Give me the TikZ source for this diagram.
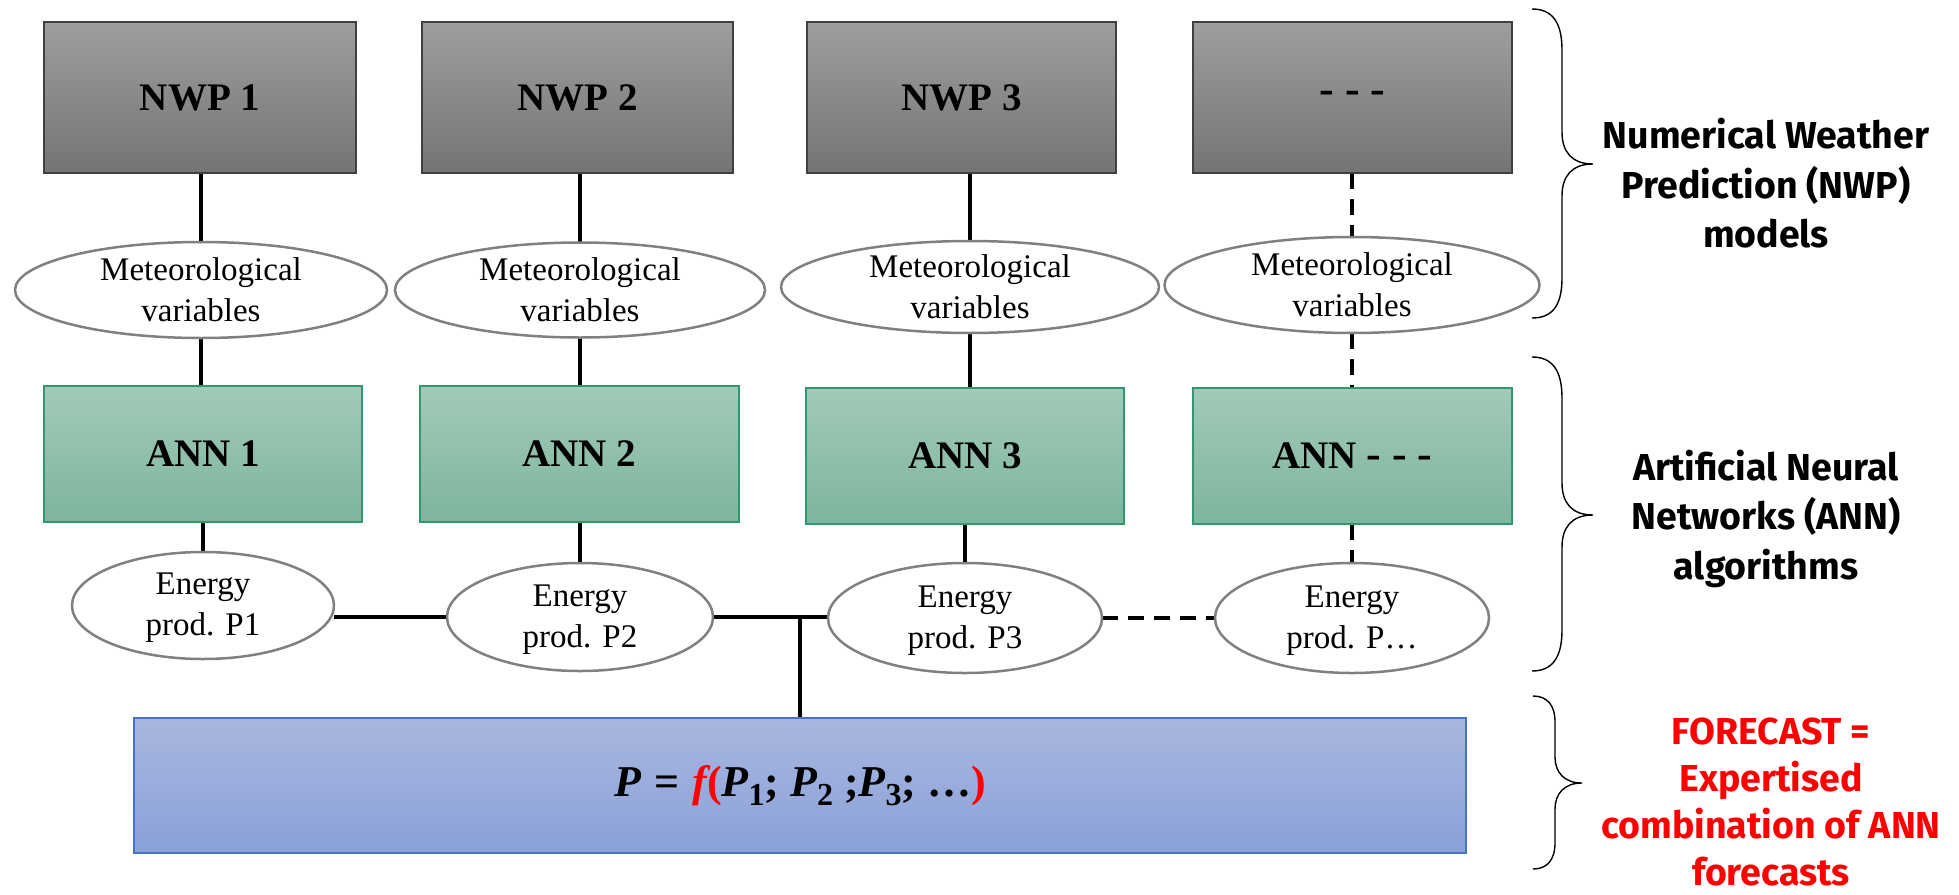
\documentclass[tikz,border=0pt]{standalone}
\usepackage{fontspec}
\setmainfont{Liberation Serif}
\newfontfamily\sidefont{Fira Sans}
\usetikzlibrary{shapes.geometric,backgrounds}
\definecolor{nwptop}{RGB}{158,158,158}
\definecolor{nwpbot}{RGB}{116,116,116}
\definecolor{anntop}{RGB}{162,202,185}
\definecolor{annbot}{RGB}{125,181,157}
\definecolor{annborder}{RGB}{50,150,110}
\definecolor{ptop}{RGB}{169,183,223}
\definecolor{pbot}{RGB}{137,161,216}
\definecolor{pborder}{RGB}{68,114,196}
\definecolor{ellborder}{RGB}{128,128,128}
\definecolor{fred}{RGB}{255,0,0}
\newcommand\bivar[1]{{\bfseries\itshape #1}}
\newcommand\dashtxt{{\fontsize{44}{47}\selectfont - - -}}
\newcommand\subtxt[1]{\raisebox{-0.22em}{\fontsize{32}{34}\selectfont #1}}
\newcommand\myformula{{\fontsize{44}{50}\selectfont\bfseries
  \bivar{P}\hspace{0.3em}=\hspace{0.3em}\textcolor{fred}{\bivar{f}(}\bivar{P}\subtxt{1}; \bivar{P}\subtxt{2} ;\bivar{P}\subtxt{3}; \ldots\textcolor{fred}{)}}}
\begin{document}
\begin{tikzpicture}[x=1pt,y=-1pt,
  nwpbox/.style={draw=black!75, line width=1.5pt, top color=nwptop, bottom color=nwpbot,
    minimum height=151, outer sep=0pt, inner sep=0pt, font=\fontsize{39}{47}\selectfont\bfseries},
  annbox/.style={draw=annborder, line width=1.5pt, top color=anntop, bottom color=annbot,
    minimum height=136, outer sep=0pt, inner sep=0pt, font=\fontsize{39}{47}\selectfont\bfseries},
  combbox/.style={draw=pborder, line width=1.5pt, top color=ptop, bottom color=pbot,
    minimum width=1332, minimum height=135, outer sep=0pt, inner sep=0pt},
  ell/.style={ellipse, draw=ellborder, line width=2.5pt, fill=white, outer sep=0pt, inner sep=0pt},
  elltext/.style={align=center, inner sep=0pt, font=\fontsize{33}{41}\selectfont},
  conn/.style={line width=4pt, black},
  dconn/.style={line width=4pt, black, dash pattern=on 16pt off 10pt},
  bracepath/.style={line width=1.4pt, black},
  sidetext/.style={align=center, inner sep=0pt, font=\sidefont\bfseries\fontsize{37.5}{49.5}\selectfont},
]
\useasboundingbox (0,0) rectangle (1959,894);

% NWP boxes
\node[nwpbox, minimum width=312] (nwp1) at (200,97.5) {NWP 1};
\node[nwpbox, minimum width=311] (nwp2) at (577.5,97.5) {NWP 2};
\node[nwpbox, minimum width=309] (nwp3) at (961.5,97.5) {NWP 3};
\node[nwpbox, minimum width=319] (nwp4) at (1352.5,97.5) {\dashtxt};

% Meteorological variables ellipses
\node[ell, minimum width=372, minimum height=96] (met1) at (201,290) {};
\node[ell, minimum width=370, minimum height=95] (met2) at (580,290) {};
\node[ell, minimum width=378, minimum height=92] (met3) at (970,287) {};
\node[ell, minimum width=375, minimum height=96] (met4) at (1352,285) {};
\node[elltext] (met1t) at (201,290) {Meteorological\\variables};
\node[elltext] (met2t) at (580,290) {Meteorological\\variables};
\node[elltext] (met3t) at (970,287) {Meteorological\\variables};
\node[elltext] (met4t) at (1352,285) {Meteorological\\variables};

% ANN boxes
\node[annbox, minimum width=318] (ann1) at (203,454) {ANN 1};
\node[annbox, minimum width=319] (ann2) at (579.5,454) {ANN 2};
\node[annbox, minimum width=318] (ann3) at (965,456) {ANN 3};
\node[annbox, minimum width=319] (ann4) at (1352.5,456) {ANN \dashtxt};

% Energy production ellipses
\node[ell, minimum width=262, minimum height=107] (ep1) at (203,605.5) {};
\node[ell, minimum width=266, minimum height=108] (ep2) at (580,617) {};
\node[ell, minimum width=274, minimum height=110] (ep3) at (965,618) {};
\node[ell, minimum width=274, minimum height=110] (ep4) at (1352,618) {};
\node[elltext] (ep1t) at (203,608) {Energy\\prod. P1};
\node[elltext] (ep2t) at (580,620) {Energy\\prod. P2};
\node[elltext] (ep3t) at (965,621) {Energy\\prod. P3};
\node[elltext] (ep4t) at (1352,621) {Energy\\prod. P\ldots};

% Combination box
\node[combbox] (comb) at (800,785.5) {\myformula};

\coordinate (j) at (comb.north |- ep2.east);

\begin{pgfonlayer}{background}
  \draw[conn] (met1.north) -- (met1.north |- nwp1.south);
  \draw[conn] (met2.north) -- (met2.north |- nwp2.south);
  \draw[conn] (met3.north) -- (met3.north |- nwp3.south);
  \draw[dconn] (met4.north |- nwp4.south) -- (met4.north);
  \draw[conn] (met1.south) -- (met1.south |- ann1.north);
  \draw[conn] (met2.south) -- (met2.south |- ann2.north);
  \draw[conn] (met3.south) -- (met3.south |- ann3.north);
  \draw[dconn] (met4.south) -- (met4.south |- ann4.north);
  \draw[conn] (ep1.north) -- (ep1.north |- ann1.south);
  \draw[conn] (ep2.north) -- (ep2.north |- ann2.south);
  \draw[conn] (ep3.north) -- (ep3.north |- ann3.south);
  \draw[dconn] (ep4.north |- ann4.south) -- (ep4.north);
  \draw[conn] (ep2.west) -- (ep2.west -| ep1.east);
  \draw[conn] (ep2.east) -- (j) -- (comb.north);
  \draw[conn] (j) -- (j -| ep3.west);
  \draw[dconn] (ep3.east) -- (ep4.west);
\end{pgfonlayer}

% Braces
\draw[bracepath] (1532,9) .. controls (1552,9) and (1562,22) .. (1562,50) -- (1562,132)
  .. controls (1562,152) and (1572,164) .. (1593,164)
  .. controls (1572,164) and (1562,176) .. (1562,196) -- (1562,278)
  .. controls (1562,306) and (1552,318) .. (1532,318);
\draw[bracepath] (1532,357) .. controls (1552,357) and (1562,370) .. (1562,398) -- (1562,483)
  .. controls (1562,503) and (1572,515) .. (1593,515)
  .. controls (1572,515) and (1562,527) .. (1562,547) -- (1562,630)
  .. controls (1562,658) and (1552,671) .. (1532,671);
\draw[bracepath] (1533,696) .. controls (1547,696) and (1555,705) .. (1555,722) -- (1555,757)
  .. controls (1555,772) and (1564,783) .. (1582,783)
  .. controls (1564,783) and (1555,794) .. (1555,809) -- (1555,843)
  .. controls (1555,860) and (1547,869) .. (1533,869);

% Side texts
\node[sidetext] (nwplab) at (1766,183.5) {Numerical Weather\\Prediction (NWP)\\models};
\node[sidetext] (annlab) at (1766,518.5) {Artificial Neural\\Networks (ANN)\\algorithms};
\node[sidetext, text=fred, font=\sidefont\bfseries\fontsize{37.5}{47}\selectfont] (fclab) at (1771,802) {FORECAST =\\Expertised\\combination of ANN\\forecasts};
\end{tikzpicture}
\end{document}
